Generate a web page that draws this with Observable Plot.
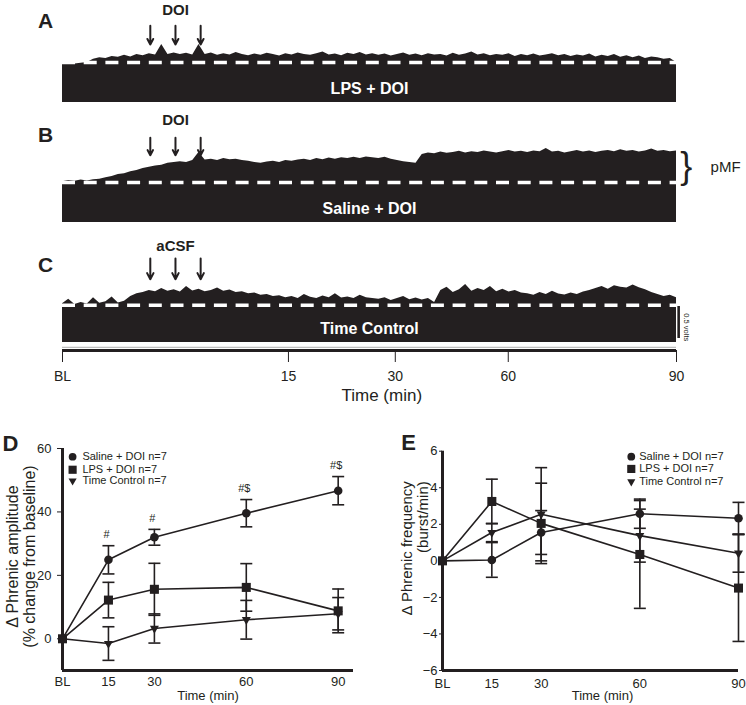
<!DOCTYPE html>
<html>
<head>
<meta charset="utf-8">
<script src="https://cdn.jsdelivr.net/npm/d3@7"></script>
<script src="https://cdn.jsdelivr.net/npm/@observablehq/plot@0.6"></script>
<style>
  body { margin: 0; background: #fff; }
  #fig { position: relative; width: 746px; height: 705px; background: #fff; overflow: hidden; }
  #fig > div { position: absolute; }
</style>
</head>
<body>
<div id="fig">
  <div id="top" style="left:0;top:0"></div>
  <div id="pd" style="left:0;top:405px"></div>
  <div id="pe" style="left:370px;top:405px"></div>
</div>
<script>
const ink = "#231f20";
const font = "'Liberation Sans', Arial, Helvetica, sans-serif";

// ---------- Panels A-C: integrated phrenic traces (amplitude, baseline = 1) ----------
const panelIds = ["A", "B", "C"];
const traceNames = ["LPS + DOI", "Saline + DOI", "Time Control"];
const drugNames = ["DOI", "DOI", "aCSF"];
const injectionPos = [14.3, 18.4, 22.5];          // % of recording
const baselineLevels = [1.0, 1.0, 0.93];
const traceA = [0.97,0.99,0.96,0.98,1.0,1.08,1.12,1.1,1.15,1.13,1.18,1.14,1.2,1.17,1.22,1.19,1.45,1.2,1.24,1.2,
  1.23,1.19,1.45,1.2,1.24,1.18,1.22,1.19,1.25,1.2,1.17,1.21,1.18,1.23,1.2,1.16,1.22,1.19,1.24,1.2,
  1.18,1.22,1.26,1.19,1.21,1.17,1.23,1.2,1.25,1.19,1.22,1.18,1.21,1.16,1.2,1.24,1.18,1.21,1.17,1.22,
  1.19,1.2,1.16,1.23,1.18,1.21,1.26,1.19,1.22,1.17,1.2,1.18,1.22,1.15,1.2,1.17,1.21,1.16,1.19,1.22,
  1.17,1.2,1.15,1.19,1.16,1.21,1.14,1.18,1.15,1.2,1.13,1.17,1.12,1.16,1.1,1.14,1.12,1.08,1.1,1.0];
const traceB = [1.02,1.05,1.03,1.06,1.04,1.07,1.08,1.12,1.15,1.2,1.22,1.27,1.3,1.35,1.38,1.41,1.43,1.48,1.5,1.52,
  1.5,1.55,1.75,1.56,1.58,1.55,1.6,1.57,1.58,1.55,1.53,1.5,1.48,1.51,1.53,1.5,1.55,1.53,1.56,1.58,
  1.55,1.6,1.57,1.61,1.58,1.62,1.6,1.63,1.6,1.64,1.62,1.6,1.63,1.58,1.55,1.52,1.5,1.48,1.7,1.74,
  1.72,1.76,1.73,1.75,1.78,1.74,1.77,1.75,1.79,1.76,1.74,1.77,1.8,1.76,1.78,1.75,1.79,1.77,1.85,1.76,
  1.78,1.74,1.77,1.8,1.76,1.79,1.75,1.78,1.8,1.77,1.82,1.78,1.8,1.76,1.79,1.84,1.78,1.8,1.77,1.79];
const traceC = [0.97,1.08,0.95,1.0,0.96,1.12,0.98,1.02,1.14,0.99,1.03,1.15,1.22,1.25,1.3,1.27,1.35,1.28,1.32,1.26,
  1.4,1.29,1.33,1.27,1.3,1.36,1.28,1.31,1.25,1.27,1.22,1.24,1.18,1.2,1.15,1.17,1.12,1.15,1.1,1.2,
  1.13,1.1,1.16,1.12,1.22,1.11,1.14,1.1,1.18,1.12,1.1,1.08,1.12,1.05,1.1,1.15,1.07,1.11,1.06,1.1,
  1.0,1.3,1.38,1.25,1.32,1.45,1.28,1.35,1.3,1.4,1.27,1.33,1.26,1.3,1.24,1.22,1.18,1.25,1.2,1.28,
  1.21,1.19,1.24,1.2,1.26,1.3,1.35,1.4,1.33,1.42,1.38,1.36,1.44,1.37,1.32,1.25,1.2,1.15,1.18,1.12];
const recTickPos = [0, 36.8, 54.2, 72.6, 100];
const recTickLabels = ["BL", "15", "30", "60", "90"];

// ---------- Panels D-E: group means ± SEM ----------
const timeMin = [0, 15, 30, 60, 90];
const timeLabels = ["BL", "15", "30", "60", "90"];
const groups = ["Saline + DOI n=7", "LPS + DOI n=7", "Time Control n=7"];
const ampSaline = [0, 24.9, 32.0, 39.6, 46.7];
const ampSalineErr = [0, 4.45, 2.5, 4.3, 4.45];
const ampLps = [0, 12.2, 15.6, 16.2, 8.8];
const ampLpsErr = [0, 5.6, 8.2, 7.5, 6.9];
const ampTime = [0, -1.5, 3.25, 6.0, 7.9];
const ampTimeErr = [0, 5.3, 4.6, 6.1, 5.1];
const ampSig = ["", "#", "#", "#$", "#$"];
const freqSaline = [0, 0.05, 1.55, 2.58, 2.33];
const freqSalineErr = [0, 0.95, 1.2, 0.8, 0.87];
const freqLps = [0, 3.25, 2.05, 0.35, -1.49];
const freqLpsErr = [0, 1.22, 2.2, 2.95, 2.92];
const freqTime = [0, 1.55, 2.55, 1.38, 0.42];
const freqTimeErr = [0, 0.5, 2.55, 1.45, 1.04];

// ---------- Top figure (A, B, C) ----------
const traceRows = [];
[traceA, traceB, traceC].forEach((arr, p) =>
  arr.forEach((v, i) => traceRows.push({panel: panelIds[p], t: i * 100 / (arr.length - 1), amp: v})));
const panelRows = panelIds.map((p, i) => ({panel: p, name: traceNames[i], drug: drugNames[i], base: baselineLevels[i]}));
const injRows = panelIds.flatMap(p => injectionPos.map(t => ({panel: p, t})));
const recTickRows = recTickPos.map((t, i) => ({panel: "C", t, label: recTickLabels[i]}));
const arrowTop = {A: 1.92, B: 2.12, C: 2.1}, arrowBottom = {A: 1.45, B: 1.68, C: 1.58};
const drugY = {A: 2.3, B: 2.55, C: 2.4}, letterY = {A: 2.03, B: 2.18, C: 1.93};

const topPlot = Plot.plot({
  width: 746, height: 405,
  marginLeft: 62, marginRight: 70, marginTop: 0, marginBottom: 45,
  x: {domain: [0, 100], axis: null},
  y: {domain: [-0.45, 2.55], axis: null},
  fy: {domain: panelIds, padding: 0, axis: null},
  style: {fontFamily: font, color: ink, background: "transparent", overflow: "visible"},
  marks: [
    Plot.areaY(traceRows, {x: "t", y: "amp", fy: "panel", curve: "linear", fill: ink}),
    Plot.ruleY(panelRows, {y: "base", fy: "panel", stroke: "white", strokeWidth: 3.5, strokeDasharray: "13,8.7"}),
    Plot.text(panelRows, {fy: "panel", text: "name", x: 50, y: 0.33, fill: "white", fontWeight: "bold", fontSize: 16}),
    Plot.text(panelRows, {fy: "panel", text: "drug", x: injectionPos[1], y: d => drugY[d.panel], fontWeight: "bold", fontSize: 15, fill: ink}),
    Plot.arrow(injRows, {fy: "panel", x: "t", y1: d => arrowTop[d.panel], y2: d => arrowBottom[d.panel], stroke: ink, strokeWidth: 2, headLength: 8, headAngle: 55}),
    Plot.text(panelRows, {fy: "panel", text: "panel", frameAnchor: "left", y: d => letterY[d.panel], dx: -17, textAnchor: "middle", fontWeight: "bold", fontSize: 21, fill: ink}),
    // pMF bracket (panel B)
    Plot.text([{panel: "B"}], {fy: "panel", text: () => "}", x: 101.6, y: 1.39, fontSize: 36, fill: ink}),
    Plot.text([{panel: "B"}], {fy: "panel", text: () => "pMF", x: 108, y: 1.39, fontSize: 15, fill: ink}),
    // scale bar (panel C)
    Plot.ruleX([{panel: "C"}], {fy: "panel", x: 100.35, y1: 0.1, y2: 0.9, stroke: ink, strokeWidth: 2.6}),
    Plot.text([{panel: "C"}], {fy: "panel", text: () => "0.5 volts", x: 101.6, y: 0.38, rotate: 90, fontSize: 7.5, fill: ink}),
    // recording time axis (below C)
    Plot.ruleY([{panel: "C"}], {fy: "panel", y: -0.12, x1: 0, x2: 100, stroke: "#9a9a9a", strokeWidth: 0.8}),
    Plot.ruleY([{panel: "C"}], {fy: "panel", y: -0.2, x1: 0, x2: 100, stroke: ink, strokeWidth: 2.8}),
    Plot.ruleX(recTickRows, {fy: "panel", x: "t", y1: -0.2, y2: -0.5, stroke: ink, strokeWidth: 1}),
    Plot.text(recTickRows, {fy: "panel", x: "t", y: -0.85, text: "label", fontSize: 14, fill: ink}),
    Plot.text([{panel: "C"}], {fy: "panel", text: () => "Time (min)", x: 52, y: -1.33, fontSize: 17, fill: ink})
  ]
});
document.getElementById("top").appendChild(topPlot);

// ---------- D & E ----------
const capSymbol = {draw(ctx) { ctx.moveTo(-6, 0); ctx.lineTo(6, 0); }};
const triDown = {draw(ctx, size) {
  const r = Math.sqrt(size / Math.PI), a = 1.25 * r, h = 2.2 * r;
  ctx.moveTo(-a, -h / 3); ctx.lineTo(a, -h / 3); ctx.lineTo(0, 2 * h / 3); ctx.closePath();
}};

function groupPlot(o) {
  const rows = groups.flatMap((g, k) => timeMin.map((t, i) => ({
    g, k, t, v: o.vals[k][i], e: o.errs[k][i], sig: k === 0 && o.sig ? o.sig[i] : ""
  })));
  const errRows = rows.filter(d => d.e > 0);
  const capRows = errRows.flatMap(d => [{t: d.t, y: d.v - d.e}, {t: d.t, y: d.v + d.e}]);
  const sym = [
    {symbol: "circle", r: 4.3},
    {symbol: "square", r: 5.1},
    {symbol: triDown, r: 3.6}
  ];
  const legendRows = groups.map((g, k) => ({g, k, y: o.legendY[k]}));
  const yLabelMarks = o.yLabelLines.map((line, j) =>
    Plot.text([line], {text: d => d, frameAnchor: o.yLabelAnchor, dx: o.yLabelDx[j], dy: o.yLabelDy,
      rotate: -90, textAnchor: o.yLabelTextAnchor, lineAnchor: "middle", fontSize: o.yLabelSize, fill: ink}));
  return Plot.plot({
    width: o.width, height: 300,
    marginLeft: o.marginLeft, marginRight: o.marginRight, marginTop: o.marginTop, marginBottom: 35,
    x: {domain: o.xDomain},
    y: {domain: o.yDomain},
    style: {fontFamily: font, color: ink, background: "transparent", overflow: "visible"},
    marks: [
      Plot.axisY({ticks: o.yTicks, tickSize: o.yTickSize, tickPadding: o.yTickPadding, fontSize: 13, label: null}),
      Plot.axisX({ticks: timeMin, tickFormat: d => timeLabels[timeMin.indexOf(d)], tickSize: 0, tickPadding: o.xTickPadding, fontSize: 13, label: null}),
      Plot.ruleX([o.xDomain[0]], {stroke: ink, strokeWidth: 3}),
      Plot.ruleY([o.yDomain[0]], {stroke: ink, strokeWidth: 3}),
      Plot.ruleX(errRows, {x: "t", y1: d => d.v - d.e, y2: d => d.v + d.e, stroke: ink, strokeWidth: 1.6}),
      Plot.dot(capRows, {x: "t", y: "y", symbol: capSymbol, r: 4, stroke: ink, strokeWidth: 1.6, fill: "none"}),
      Plot.line(rows, {x: "t", y: "v", z: "g", stroke: ink, strokeWidth: 1.6}),
      ...sym.map((s, k) => Plot.dot(rows.filter(d => d.k === k), {x: "t", y: "v", symbol: s.symbol, r: s.r, fill: ink, stroke: "none"})),
      Plot.text(rows.filter(d => d.sig), {x: "t", y: d => d.v + d.e, dy: -11, dx: -2, text: "sig", fontSize: 11, fill: ink}),
      // legend
      ...sym.map((s, k) => Plot.dot(legendRows.filter(d => d.k === k), {x: o.legendX, y: "y", symbol: s.symbol, r: s.r * 0.9, fill: ink, stroke: "none"})),
      Plot.text(legendRows, {x: o.legendTextX, y: "y", text: "g", textAnchor: "start", fontSize: 11, fill: ink}),
      // labels
      ...yLabelMarks,
      Plot.text(["Time (min)"], {text: d => d, frameAnchor: "bottom", dy: 25, dx: o.xLabelDx, lineAnchor: "middle", fontSize: 13, fill: ink}),
      Plot.text([o.letter], {text: d => d, frameAnchor: "top-left", dx: o.letterDx, dy: o.letterDy, textAnchor: "middle", lineAnchor: "middle", fontWeight: "bold", fontSize: 22, fill: ink})
    ]
  });
}

const plotD = groupPlot({
  vals: [ampSaline, ampLps, ampTime], errs: [ampSalineErr, ampLpsErr, ampTimeErr], sig: ampSig,
  xDomain: [0, 95], yDomain: [-10, 60], yTicks: [0, 20, 40, 60],
  width: 370, marginLeft: 62, marginRight: 17, marginTop: 43,
  yTickSize: 5, yTickPadding: 6, xTickPadding: 6,
  legendX: 3.3, legendTextX: 6.5, legendY: [57.4, 53.3, 49.8],
  yLabelLines: ["Δ Phrenic amplitude", "(% change from baseline)"], yLabelAnchor: "left",
  yLabelDx: [-49.5, -33], yLabelDy: -3, yLabelTextAnchor: "middle", yLabelSize: 16,
  xLabelDx: 0, letter: "D", letterDx: -52, letterDy: -5
});
document.getElementById("pd").appendChild(plotD);

const plotE = groupPlot({
  vals: [freqSaline, freqLps, freqTime], errs: [freqSalineErr, freqLpsErr, freqTimeErr], sig: null,
  xDomain: [0, 90], yDomain: [-6, 6], yTicks: [-6, -4, -2, 0, 2, 4, 6],
  width: 376, marginLeft: 72, marginRight: 8, marginTop: 45.7,
  yTickSize: 3, yTickPadding: 2, xTickPadding: 8,
  legendX: 57.4, legendTextX: 59.8, legendY: [5.7, 5.03, 4.33],
  yLabelLines: ["Δ Phrenic frequency", "(burst/min)"], yLabelAnchor: "top-left",
  yLabelDx: [-35, -19.5], yLabelDy: 30, yLabelTextAnchor: "end", yLabelSize: 15,
  xLabelDx: 12, letter: "E", letterDx: -34, letterDy: -8
});
document.getElementById("pe").appendChild(plotE);
</script>
</body>
</html>
